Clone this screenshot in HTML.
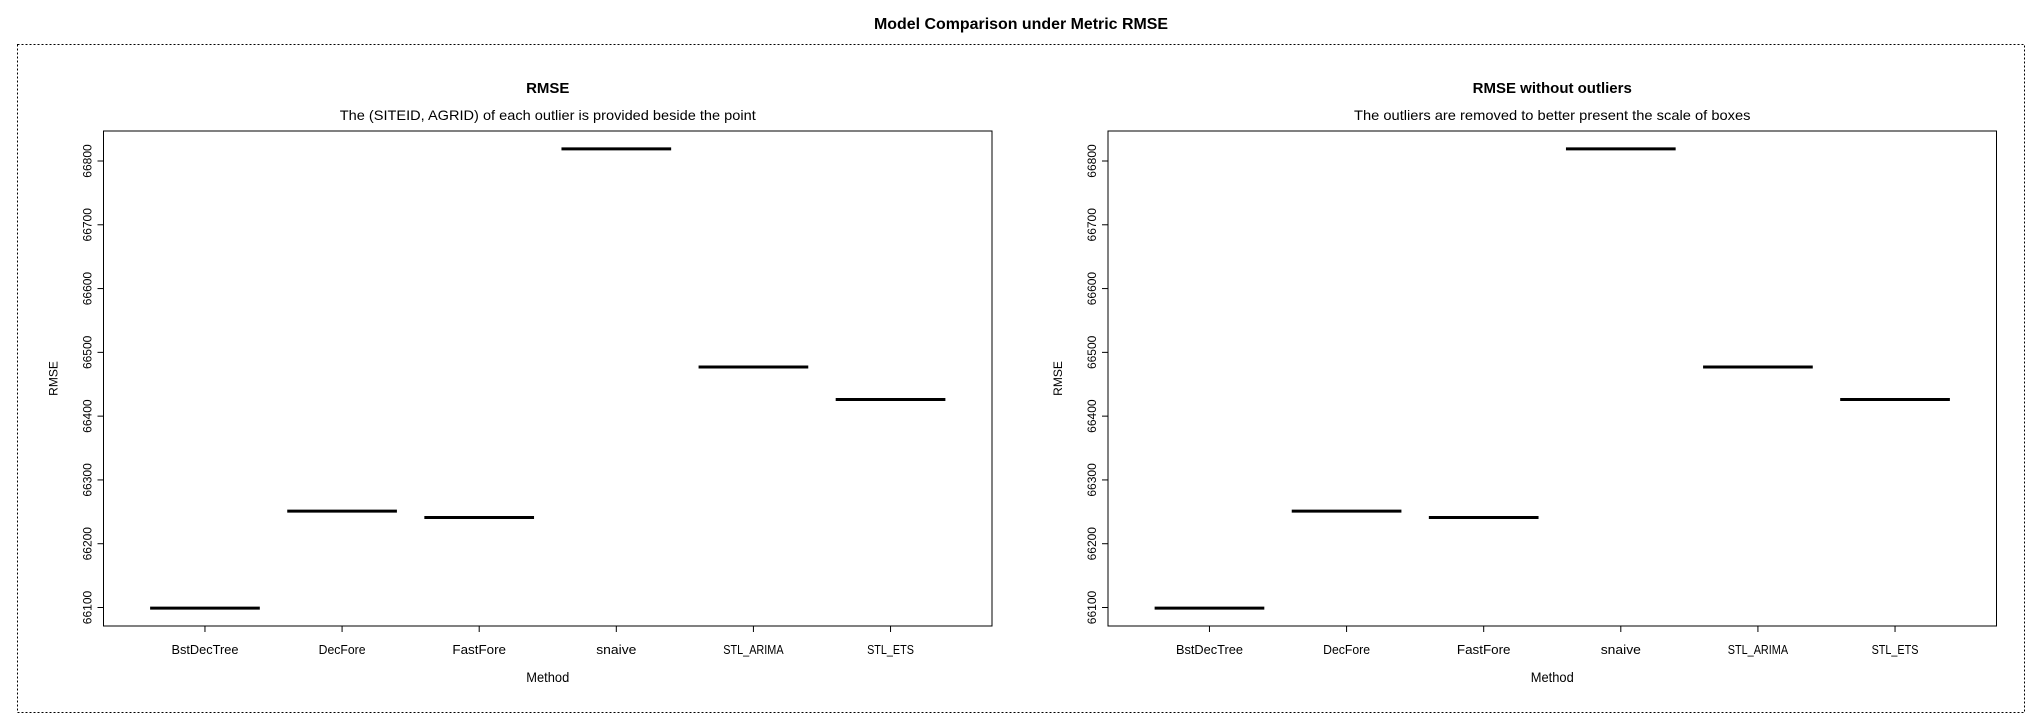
<!DOCTYPE html>
<html><head><meta charset="utf-8"><style>
html,body{margin:0;padding:0;background:#fff;}
svg{display:block;font-family:"Liberation Sans",Arial,sans-serif;}
</style></head><body>
<svg id="chart" width="2040" height="720" viewBox="0 0 2040 720" xmlns="http://www.w3.org/2000/svg">
<rect x="0" y="0" width="2040" height="720" fill="#fff"/>
<text x="1021" y="29" text-anchor="middle" font-size="16" font-weight="bold" textLength="294" lengthAdjust="spacingAndGlyphs">Model Comparison under Metric RMSE</text>
<rect x="17.5" y="44.5" width="2007" height="668" fill="none" stroke="#000" stroke-dasharray="2,2"/>
<g id="panels"></g>
</svg>
<script>
const categories = ["BstDecTree","DecFore","FastFore","snaive","STL_ARIMA","STL_ETS"];
const valuesLeft = [66099, 66251, 66241, 66819, 66477, 66426];
const valuesRight = [66099, 66251, 66241, 66819, 66477, 66426];
const yTicks = [66100, 66200, 66300, 66400, 66500, 66600, 66700, 66800];
const yTickLabels = ["66100","66200","66300","66400","66500","66600","66700","66800"];

const NS = "http://www.w3.org/2000/svg";
const panelRoot = document.getElementById('panels');
function mk(tag, attrs, parent){
  const e = document.createElementNS(NS, tag);
  for (const k in attrs) e.setAttribute(k, attrs[k]);
  parent.appendChild(e);
  return e;
}
const plotTop = 131, plotBottom = 626;
function yScale(v){ return 607.5 - (v - 66100) * (446.5 / 700); }

function panel(x0, x1, title, subtitle, values, prefix){
  const g = mk('g', {}, panelRoot);
  
  
  const w = x1 - x0;
  const unit = w / 6.48;
  const xScale = i => x0 + (i + 1 - 0.26) * unit;
  const cx = (x0 + x1) / 2;
  const t = mk('text', {x: cx, y: 93, 'text-anchor': 'middle', 'font-size': 15, 'font-weight': 'bold'}, g);
  
  
  t.textContent = title;
  const st = mk('text', {x: cx, y: 120, 'text-anchor': 'middle', 'font-size': 14, textLength: subtitle.length * 6.5, lengthAdjust: 'spacingAndGlyphs'}, g);
  
  
  st.textContent = subtitle;
  const box = mk('rect', {x: x0, y: plotTop, width: w, height: plotBottom - plotTop, fill: 'none', stroke: '#000', 'stroke-width': 1}, g);
  
  
  yTicks.forEach((v, i) => {
    const y = yScale(v);
    const tk = mk('line', {x1: x0 - 6, x2: x0, y1: y, y2: y, stroke: '#000'}, g);
    
    
    const lb = mk('text', {x: 0, y: 0, 'text-anchor': 'middle', 'font-size': 12, transform: `translate(${x0 - 12},${y}) rotate(-90)`}, g);
    
    
    lb.textContent = yTickLabels[i];
  });
  const yl = mk('text', {x: 0, y: 0, 'text-anchor': 'middle', 'font-size': 12, transform: `translate(${x0 - 46},${(plotTop + plotBottom) / 2}) rotate(-90)`}, g);
  
  
  yl.textContent = 'RMSE';
  categories.forEach((c, i) => {
    const x = xScale(i);
    const tk = mk('line', {x1: x, x2: x, y1: plotBottom, y2: plotBottom + 6, stroke: '#000'}, g);
    
    
    const lb = mk('text', {x: x, y: 654, 'text-anchor': 'middle', 'font-size': 13, textLength: c.length * 6.7, lengthAdjust: 'spacingAndGlyphs'}, g);
    
    
    lb.textContent = c;
    const y = yScale(values[i]);
    const m = mk('line', {x1: x - 0.4 * unit, x2: x + 0.4 * unit, y1: y, y2: y, stroke: '#000', 'stroke-width': 3}, g);
    
    
  });
  const xl = mk('text', {x: cx, y: 682, 'text-anchor': 'middle', 'font-size': 14, textLength: 43, lengthAdjust: 'spacingAndGlyphs'}, g);
  
  
  xl.textContent = 'Method';
}
panel(103.5, 992, 'RMSE', 'The (SITEID, AGRID) of each outlier is provided beside the point', valuesLeft, 'left');
panel(1108, 1996.5, 'RMSE without outliers', 'The outliers are removed to better present the scale of boxes', valuesRight, 'right');
</script>
</body></html>
